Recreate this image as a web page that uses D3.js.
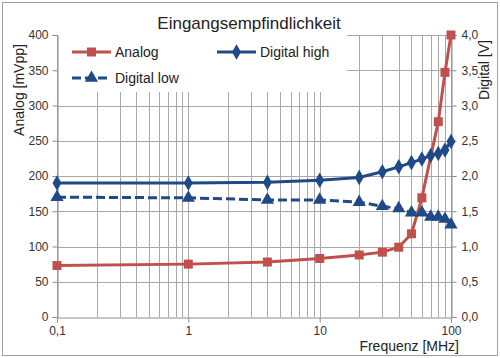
<!DOCTYPE html>
<html><head><meta charset="utf-8">
<script src="https://cdn.jsdelivr.net/npm/d3@7/dist/d3.min.js"></script>
<style>body{margin:0;background:#fff}svg{display:block;font-family:"Liberation Sans",Arial,sans-serif}</style>
</head><body>
<script>
const title = "Eingangsempfindlichkeit";
const freqAnalog = [0.1, 1, 4, 10, 20, 30, 40, 50, 60, 80, 90, 100];
const analog = [73, 75, 78, 83, 88, 92, 99, 118, 169, 277, 347, 400];
const freqDigital = [0.1, 1, 4, 10, 20, 30, 40, 50, 60, 70, 80, 90, 100];
const digitalHigh = [1.90, 1.90, 1.91, 1.94, 1.98, 2.06, 2.13, 2.19, 2.24, 2.29, 2.32, 2.37, 2.49];
const digitalLow = [1.70, 1.69, 1.66, 1.66, 1.63, 1.57, 1.54, 1.48, 1.48, 1.42, 1.42, 1.39, 1.31];
const leftTicks = [0, 50, 100, 150, 200, 250, 300, 350, 400];
const rightTicks = [0, 0.5, 1, 1.5, 2, 2.5, 3, 3.5, 4];
const xTicks = [0.1, 1, 10, 100];
const xTickLabels = ["0,1", "1", "10", "100"];

const W = 500, H = 358;
const svg = d3.select("body").append("svg").attr("width", W).attr("height", H);
const x = d3.scaleLog().domain([0.1, 100]).range([57, 451]);
const yL = d3.scaleLinear().domain([0, 400]).range([317, 35]);
const yR = d3.scaleLinear().domain([0, 4]).range([317, 35]);
const red = "#C0504D", blue = "#1F4A87", grid = "#a8a8a8";

svg.append("rect").attr("x", 2.5).attr("y", 2.5).attr("width", 495).attr("height", 353)
  .attr("fill", "#fff").attr("stroke", "#a0a0a0");

// grid
const minor = [];
[0.1, 1, 10].forEach(d => { for (let k = 1; k <= 9; k++) minor.push(d * k); });
minor.push(100);
svg.append("g").selectAll("line").data(minor).join("line")
  .attr("x1", d => Math.round(x(d)) + 0.5).attr("x2", d => Math.round(x(d)) + 0.5)
  .attr("y1", yL(0)).attr("y2", yL(400)).attr("stroke", grid);
svg.append("g").selectAll("line").data(leftTicks.slice(1)).join("line")
  .attr("x1", x(0.1)).attr("x2", x(100))
  .attr("y1", d => Math.round(yL(d)) + 0.5).attr("y2", d => Math.round(yL(d)) + 0.5).attr("stroke", grid);

// legend background covers grid
svg.append("rect").attr("x", 58).attr("y", 30).attr("width", 289).attr("height", 62).attr("fill", "#fff");

// axes
const axCol = "#8c8c8c";
const gL = svg.append("g").attr("transform", `translate(${Math.round(x(0.1)) + 0.5},0)`)
  .call(d3.axisLeft(yL).tickValues(leftTicks).tickSize(5).tickPadding(4).tickFormat(d => d));
const gR = svg.append("g").attr("transform", `translate(${Math.round(x(100)) + 0.5},0)`)
  .call(d3.axisRight(yR).tickValues(rightTicks).tickSize(5).tickPadding(5).tickFormat(d => d3.format(".1f")(d).replace(".", ",")));
const gB = svg.append("g").attr("transform", `translate(0,${Math.round(yL(0)) + 0.5})`)
  .call(d3.axisBottom(x).tickValues(xTicks).tickSize(5).tickPadding(4).tickFormat((d, i) => xTickLabels[i]));
[gL, gR, gB].forEach(g => {
  g.selectAll(".domain").attr("stroke", axCol);
  g.selectAll(".tick line").attr("stroke", axCol);
  g.selectAll("text").attr("font-size", 12).attr("fill", "#333").attr("font-family", "Liberation Sans, Arial, sans-serif");
});

// lines
const lineA = d3.line().x((d, i) => x(freqAnalog[i])).y(d => yL(d));
const lineD = d3.line().x((d, i) => x(freqDigital[i])).y(d => yR(d));
svg.append("path").attr("d", lineD(digitalLow)).attr("fill", "none").attr("stroke", blue)
  .attr("stroke-width", 3).attr("stroke-dasharray", "9,4");
svg.append("path").attr("d", lineD(digitalHigh)).attr("fill", "none").attr("stroke", blue).attr("stroke-width", 3);
svg.append("path").attr("d", lineA(analog)).attr("fill", "none").attr("stroke", red).attr("stroke-width", 3);

const sq = d3.symbol().type(d3.symbolSquare).size(81);
const dia = d3.symbol().type(d3.symbolDiamond).size(70);
const tri = d3.symbol().type(d3.symbolTriangle).size(75);
svg.append("g").selectAll("path").data(digitalLow).join("path")
  .attr("transform", (d, i) => `translate(${x(freqDigital[i])},${yR(d)})`).attr("d", tri()).attr("fill", blue);
svg.append("g").selectAll("path").data(digitalHigh).join("path")
  .attr("transform", (d, i) => `translate(${x(freqDigital[i])},${yR(d)})`).attr("d", dia()).attr("fill", blue);
svg.append("g").selectAll("path").data(analog).join("path")
  .attr("transform", (d, i) => `translate(${x(freqAnalog[i])},${yL(d)})`).attr("d", sq()).attr("fill", red);

// legend
const leg = [
  {name: "Analog", col: red, sym: sq, dash: null, x: 72, y: 52},
  {name: "Digital high", col: blue, sym: dia, dash: null, x: 217, y: 52},
  {name: "Digital low", col: blue, sym: tri, dash: "9,4", x: 72, y: 78}
];
leg.forEach(l => {
  svg.append("line").attr("x1", l.x).attr("x2", l.x + 39).attr("y1", l.y).attr("y2", l.y)
    .attr("stroke", l.col).attr("stroke-width", 3).attr("stroke-dasharray", l.dash);
  svg.append("path").attr("transform", `translate(${l.x + 19.5},${l.y})`).attr("d", l.sym()).attr("fill", l.col);
  svg.append("text").attr("x", l.x + 43).attr("y", l.y + 5).attr("font-size", 14).attr("fill", "#222").text(l.name);
});

// titles
svg.append("text").attr("x", 249).attr("y", 29).attr("text-anchor", "middle").attr("font-size", 17).attr("fill", "#222").text(title);
svg.append("text").attr("transform", "translate(24,90) rotate(-90)").attr("text-anchor", "middle")
  .attr("font-size", 14).attr("fill", "#222").text("Analog [mVpp]");
svg.append("text").attr("transform", "translate(489,70) rotate(-90)").attr("text-anchor", "middle")
  .attr("font-size", 14).attr("fill", "#222").text("Digital [V]");
svg.append("text").attr("x", 459).attr("y", 351).attr("text-anchor", "end")
  .attr("font-size", 14).attr("fill", "#222").text("Frequenz [MHz]");
</script>
</body></html>
